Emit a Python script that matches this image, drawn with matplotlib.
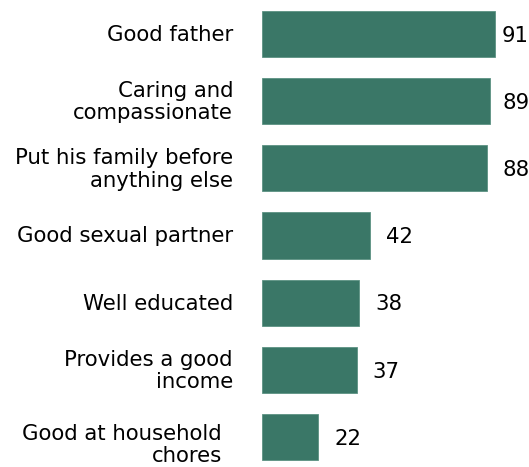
import matplotlib
matplotlib.use("Agg")
import matplotlib.pyplot as plt
import matplotlib.transforms as mtransforms

categories = [
    "Good father",
    "Caring and\ncompassionate",
    "Put his family before\nanything else",
    "Good sexual partner",
    "Well educated",
    "Provides a good\nincome",
    "Good at household\nchores",
]
values = [91, 89, 88, 42, 38, 37, 22]

BAR_COLOR = "#3a7767"
TEXT_COLOR = "#000000"
FS = 15.3

fig = plt.figure(figsize=(5.29, 4.67), dpi=100)
W, H = 529, 467
ax = fig.add_axes([262 / W, 0, (W - 262) / W, 1])

ypos = list(range(len(categories)))
ax.barh(ypos, values, height=0.685, color=BAR_COLOR, edgecolor="#5c9283", linewidth=0.6)

ax.set_xlim(0, (W - 262) / 2.56)
ax.set_ylim(6 + (467 - 437) / 67.17, -34 / 67.17)
ax.axis("off")

# value labels
for y, v in zip(ypos, values):
    ax.text(min(v + 6.25, 93.75), y + 0.025, str(v), ha="left", va="center",
            fontsize=FS, color=TEXT_COLOR)

# category labels (right-aligned left of bars)
for i, (y, lab) in enumerate(zip(ypos, categories)):
    if i == len(categories) - 1:
        off = mtransforms.offset_copy(ax.transData, fig=fig, x=-40 / 100 * 72, y=-8 / 100 * 72, units="points")
    else:
        off = mtransforms.offset_copy(ax.transData, fig=fig, x=-29 / 100 * 72, y=-1 / 100 * 72, units="points")
    ax.text(0, y, lab, ha="right", va="center", multialignment="right",
            fontsize=FS, color=TEXT_COLOR, transform=off, linespacing=1.15,
            clip_on=False)

fig.savefig("out.png", dpi=100)
